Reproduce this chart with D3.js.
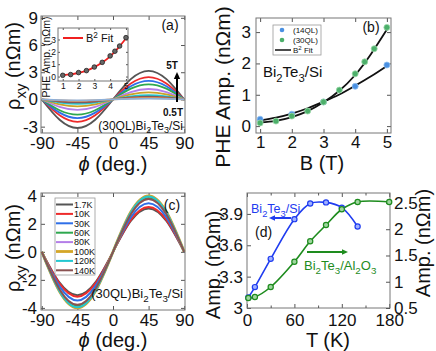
<!DOCTYPE html>
<html>
<head>
<meta charset="utf-8">
<script src="https://cdn.jsdelivr.net/npm/d3@7"></script>
<style>
  body { margin: 0; background: #fff; }
  text { font-family: "Liberation Sans", Arial, sans-serif; }
</style>
</head>
<body>
<div id="graph"></div>
<script>
// ---- data ----
// angle samples and the normalised curve shape seen in (a) and (c)
var phi = [-90, -67.5, -45, -22.5, 0, 22.5, 45, 67.5, 90];
var sineShape = [0, -0.71, -1, -0.71, 0, 0.71, 1, 0.71, 0];

// (a) field sweep, amplitudes in nOhm m (largest first)
var fieldsA = [5, 4.6, 4.3, 4, 3.5, 3, 2.5, 2, 1.5, 1];
var ampA = [3.15, 2.47, 2.05, 1.67, 1.15, 0.77, 0.48, 0.32, 0.16, 0.10];
var coloursA = ["#555555", "#ee2b2b", "#2f6fe8", "#2ea84f", "#b47ee8", "#c9a227", "#22c7d0", "#8a5757", "#e0893a", "#8fb0d8"];

// (b) PHE amplitude vs B
var b14 = [1, 2, 3, 4, 5];
var amp14 = [0.22, 0.38, 0.77, 1.27, 1.95];
var b30 = [1, 1.5, 2, 2.5, 3, 3.5, 4, 4.3, 4.6, 5];
var amp30 = [0.10, 0.16, 0.32, 0.48, 0.77, 1.15, 1.67, 2.05, 2.47, 3.15];
var fitB = [1, 1.5, 2, 2.5, 3, 3.5, 4, 4.5, 5];
var fit14 = [0.18, 0.27, 0.40, 0.57, 0.78, 1.01, 1.29, 1.59, 1.92];
var fit30 = [0.12, 0.17, 0.29, 0.48, 0.76, 1.13, 1.63, 2.30, 3.08];

// (c) temperature sweep
var tempsC = ["1.7K", "10K", "30K", "60K", "80K", "100K", "120K", "140K"];
var ampC = [3.10, 3.20, 3.47, 3.85, 3.98, 4.00, 3.95, 3.78];
var coloursC = ["#555555", "#ee2b2b", "#2f6fe8", "#2ea84f", "#b47ee8", "#d4a628", "#22c7d0", "#8a5252"];

// (d) amplitude vs T
var tSi = [1.7, 10, 30, 60, 80, 100, 120, 140];
var ampSi = [3.10, 3.20, 3.47, 3.85, 4.00, 4.01, 3.96, 3.78];
var tAl = [1.7, 10, 30, 60, 80, 100, 120, 140, 180];
var ampAl = [0.69, 0.71, 0.90, 1.38, 1.77, 2.08, 2.38, 2.52, 2.52];

var svg = d3.select("#graph")
  .append("svg")
    .attr("width", 436)
    .attr("height", 351);

var frameColour = "#777";

// text with sub/superscripts: parts = [[text, "sub"|"sup"|null, italic]]
function rich(sel, parts, size) {
  var shift = 0;
  parts.forEach(function(p) {
    var target = p[1] == "sub" ? size * 0.3 : (p[1] == "sup" ? -size * 0.4 : 0);
    var t = sel.append("tspan").attr("dy", target - shift).text(p[0]);
    if (p[1]) t.attr("font-size", size * 0.75);
    if (p[2]) t.attr("font-style", "italic");
    shift = target;
  });
  return sel;
}

function label(x, y, parts, size, opts) {
  opts = opts || {};
  var t = svg.append("text")
    .attr("x", x).attr("y", y)
    .attr("font-size", size)
    .attr("text-anchor", opts.anchor || "start")
    .attr("fill", opts.fill || "#111")
    .attr("font-weight", opts.bold ? "bold" : null);
  if (opts.rotate) t.attr("transform", "rotate(-90," + x + "," + y + ")");
  return rich(t, parts, size);
}

function styleAxis(g, size) {
  g.select(".domain").remove();
  g.selectAll(".tick line").attr("stroke", "#555");
  g.selectAll(".tick text")
    .attr("font-size", size)
    .attr("fill", "#111")
    .attr("font-family", "Liberation Sans, Arial, sans-serif");
}

// draws the frame plus inward ticks on all four sides
function frame(x, y, xt, yt, o) {
  var x0 = x.range()[0], x1 = x.range()[1], y0 = y.range()[0], y1 = y.range()[1];
  var fs = o.size || 17, tl = o.tick || 4;
  var fmt = function(d) { return String(d); };
  if (o.fill) {
    svg.append("rect").attr("x", x0).attr("y", y1).attr("width", x1 - x0).attr("height", y0 - y1)
      .attr("fill", o.fill);
  }
  svg.append("g").attr("transform", "translate(0," + y0 + ")")
    .call(d3.axisBottom(x).tickValues(xt).tickFormat(fmt).tickSizeInner(-tl).tickSizeOuter(0).tickPadding(o.padX))
    .call(styleAxis, fs);
  svg.append("g").attr("transform", "translate(0," + y1 + ")")
    .call(d3.axisTop(x).tickValues(xt).tickFormat("").tickSizeInner(-tl).tickSizeOuter(0))
    .call(styleAxis, fs);
  svg.append("g").attr("transform", "translate(" + x0 + ",0)")
    .call(d3.axisLeft(y).tickValues(yt).tickFormat(fmt).tickSizeInner(-tl).tickSizeOuter(0).tickPadding(o.padY))
    .call(styleAxis, fs);
  if (!o.noRight) {
    svg.append("g").attr("transform", "translate(" + x1 + ",0)")
      .call(d3.axisRight(y).tickValues(yt).tickFormat("").tickSizeInner(-tl).tickSizeOuter(0))
      .call(styleAxis, fs);
  }
  svg.append("rect").attr("x", x0).attr("y", y1).attr("width", x1 - x0).attr("height", y0 - y1)
    .attr("fill", "none").attr("stroke", frameColour).attr("stroke-width", 1);
}

function arrow(x1, y1, x2, y2, colour, head) {
  var a = Math.atan2(y2 - y1, x2 - x1), h = head || 6;
  svg.append("line").attr("x1", x1).attr("y1", y1)
    .attr("x2", x2 - Math.cos(a) * h * 0.8).attr("y2", y2 - Math.sin(a) * h * 0.8)
    .attr("stroke", colour).attr("stroke-width", 2);
  var p = [[x2, y2],
           [x2 - h * Math.cos(a) + h * 0.45 * Math.sin(a), y2 - h * Math.sin(a) - h * 0.45 * Math.cos(a)],
           [x2 - h * Math.cos(a) - h * 0.45 * Math.sin(a), y2 - h * Math.sin(a) + h * 0.45 * Math.cos(a)]];
  svg.append("path").attr("d", "M" + p.join("L") + "Z").attr("fill", colour);
}

var bite = [["Bi"], ["2", "sub"], ["Te"], ["3", "sub"], ["/Si"]];

// ================= (a) =================
var xA = d3.scaleLinear().domain([-91, 91]).range([41, 185]);
var yA = d3.scaleLinear().domain([-3.7, 9.2]).range([133, 16]);
frame(xA, yA, [-90, -45, 0, 45, 90], [-3, 0, 3, 6, 9], {padX: 4, padY: 3});

var lineA = d3.line()
  .x(function(d, i) { return xA(phi[i]); })
  .y(function(d) { return yA(d); })
  .curve(d3.curveNatural);

svg.selectAll(".curveA")
  .data(ampA)
  .enter().append("path")
    .attr("class", "curveA")
    .attr("fill", "none")
    .attr("stroke", function(d, i) { return coloursA[i]; })
    .attr("stroke-width", 1.8)
    .attr("d", function(a) { return lineA(sineShape.map(function(s) { return s * a; })); });

label(172, 69, [["5T"]], 10, {bold: true, anchor: "middle"});
label(173, 116, [["0.5T"]], 10, {bold: true, anchor: "middle"});
arrow(177, 102, 177, 72, "#000", 7);
label(170, 30, [["(a)"]], 14, {anchor: "middle"});
label(183, 129.5, [["(30QL)Bi"], ["2", "sub"], ["Te"], ["3", "sub"], ["/Si"]], 12, {anchor: "end"});
label(20, 66, [["ρ"], ["xy", "sub"], [" (nΩm)"]], 20, {anchor: "middle", rotate: true});
label(113, 171, [["ϕ", null, true], [" (deg.)"]], 20, {anchor: "middle"});

// inset
var xI = d3.scaleLinear().domain([0.7, 5.13]).range([58, 128]);
var yI = d3.scaleLinear().domain([-0.36, 3.93]).range([81, 28]);
frame(xI, yI, [1, 2, 3, 4, 5], [0, 1, 2, 3], {padX: 2, padY: 2, size: 8.5, tick: 2, fill: "#fff"});
svg.append("path")
  .datum(fit30)
  .attr("fill", "none").attr("stroke", "#f02020").attr("stroke-width", 1.8)
  .attr("d", d3.line()
    .x(function(d, i) { return xI(fitB[i]); })
    .y(function(d) { return yI(d); })
    .curve(d3.curveNatural));
svg.selectAll(".ptI")
  .data(amp30)
  .enter().append("circle")
    .attr("cx", function(d, i) { return xI(b30[i]); })
    .attr("cy", function(d) { return yI(d); })
    .attr("r", 2.3)
    .attr("fill", "#666").attr("stroke", "#222").attr("stroke-width", 0.8);
svg.append("line").attr("x1", 63).attr("x2", 83).attr("y1", 38).attr("y2", 38)
  .attr("stroke", "#f02020").attr("stroke-width", 2);
label(86, 42, [["B"], ["2", "sup"], [" Fit"]], 11);
label(50, 57, [["PHE Amp. (nΩm)"]], 10.5, {anchor: "middle", rotate: true});

// ================= (b) =================
var xB = d3.scaleLinear().domain([0.87, 5.13]).range([256, 391]);
var yB = d3.scaleLinear().domain([-0.22, 3.45]).range([133, 18]);
frame(xB, yB, [1, 2, 3, 4, 5], [0, 1, 2, 3], {padX: 3, padY: 5});

var lineB = d3.line()
  .x(function(d, i) { return xB(fitB[i]); })
  .y(function(d) { return yB(d); })
  .curve(d3.curveNatural);
[fit14, fit30].forEach(function(f) {
  svg.append("path").datum(f)
    .attr("fill", "none").attr("stroke", "#111").attr("stroke-width", 1.8)
    .attr("d", lineB);
});
svg.selectAll(".pt14")
  .data(amp14)
  .enter().append("circle")
    .attr("cx", function(d, i) { return xB(b14[i]); })
    .attr("cy", function(d) { return yB(d); })
    .attr("r", 3).attr("fill", "#4a90e2").attr("stroke", "#8fc0f0").attr("stroke-width", 0.8);
svg.selectAll(".pt30")
  .data(amp30)
  .enter().append("circle")
    .attr("cx", function(d, i) { return xB(b30[i]); })
    .attr("cy", function(d) { return yB(d); })
    .attr("r", 3).attr("fill", "#4caf6a").attr("stroke", "#9ad8a8").attr("stroke-width", 0.8);

// legend (b)
svg.append("rect").attr("x", 273).attr("y", 25).attr("width", 48).attr("height", 30)
  .attr("fill", "#fff").attr("stroke", "#999").attr("stroke-width", 0.8);
svg.append("circle").attr("cx", 282).attr("cy", 30).attr("r", 2.3).attr("fill", "#4a90e2");
svg.append("circle").attr("cx", 282).attr("cy", 40).attr("r", 2.3).attr("fill", "#4caf6a");
svg.append("line").attr("x1", 275).attr("x2", 291).attr("y1", 50).attr("y2", 50)
  .attr("stroke", "#111").attr("stroke-width", 1.5);
label(293, 33, [["(14QL)"]], 8);
label(293, 43, [["(30QL)"]], 8);
label(293, 53, [["B"], ["2", "sup"], [" Fit"]], 8);

label(371, 32, [["(b)"]], 14, {anchor: "middle"});
label(263, 77, bite, 15);
label(230, 87, [["PHE Amp. (nΩm)"]], 21, {anchor: "middle", rotate: true});
label(322, 170, [["B (T)"]], 20, {anchor: "middle"});

// ================= (c) =================
var xC = d3.scaleLinear().domain([-91, 91]).range([41, 185]);
var yC = d3.scaleLinear().domain([-4.15, 4.2]).range([310, 193]);
frame(xC, yC, [-90, -45, 0, 45, 90], [-4, -2, 0, 2, 4], {padX: 4, padY: 4});

var lineC = d3.line()
  .x(function(d, i) { return xC(phi[i]); })
  .y(function(d) { return yC(d); })
  .curve(d3.curveNatural);
svg.selectAll(".curveC")
  .data(ampC)
  .enter().append("path")
    .attr("fill", "none")
    .attr("stroke", function(d, i) { return coloursC[i]; })
    .attr("stroke-width", function(d, i) { return tempsC[i] == "100K" ? 2.8 : 2; })
    .attr("d", function(a) { return lineC(sineShape.map(function(s) { return s * a; })); });

// legend (c)
svg.append("rect").attr("x", 55).attr("y", 198).attr("width", 40).attr("height", 77)
  .attr("fill", "#fff").attr("stroke", "#999").attr("stroke-width", 0.8);
tempsC.forEach(function(t, i) {
  var yy = 204.5 + i * 9.4;
  svg.append("line").attr("x1", 56).attr("x2", 73).attr("y1", yy).attr("y2", yy)
    .attr("stroke", coloursC[i]).attr("stroke-width", t == "100K" ? 2.8 : 2);
  label(74, yy + 3.2, [[t]], 9);
});

label(172, 210, [["(c)"]], 14, {anchor: "middle"});
label(183, 298, [["(30QL)Bi"], ["2", "sub"], ["Te"], ["3", "sub"], ["/Si"]], 13, {anchor: "end"});
label(20, 248, [["ρ"], ["xy", "sub"], [" (nΩm)"]], 20, {anchor: "middle", rotate: true});
label(113, 347, [["ϕ", null, true], [" (deg.)"]], 20, {anchor: "middle"});

// ================= (d) =================
var xD = d3.scaleLinear().domain([0, 181]).range([247, 390]);
var yDL = d3.scaleLinear().domain([3, 4.1]).range([308, 193]);
var yDR = d3.scaleLinear().domain([0.5, 2.69]).range([308, 193]);
frame(xD, yDL, [0, 60, 120, 180], [3, 3.3, 3.6, 3.9], {padX: 6, padY: 4, noRight: true});
// minor ticks on T axis
svg.append("g").attr("transform", "translate(0,308)")
  .call(d3.axisBottom(xD).tickValues([30, 90, 150]).tickFormat("").tickSizeInner(-2.5).tickSizeOuter(0))
  .call(styleAxis, 17);
svg.append("g").attr("transform", "translate(0,193)")
  .call(d3.axisTop(xD).tickValues([30, 90, 150]).tickFormat("").tickSizeInner(-2.5).tickSizeOuter(0))
  .call(styleAxis, 17);
svg.append("g").attr("transform", "translate(390,0)")
  .call(d3.axisRight(yDR).tickValues([0.5, 1, 1.5, 2, 2.5]).tickFormat(function(d) { return String(d); })
    .tickSizeInner(-4).tickSizeOuter(0).tickPadding(4))
  .call(styleAxis, 17);

var blue = "#1f3cf0", green = "#1e8c1e";
svg.append("path").datum(ampSi)
  .attr("fill", "none").attr("stroke", blue).attr("stroke-width", 1.6)
  .attr("d", d3.line()
    .x(function(d, i) { return xD(tSi[i]); })
    .y(function(d) { return yDL(d); })
    .curve(d3.curveCatmullRom));
svg.append("path").datum(ampAl)
  .attr("fill", "none").attr("stroke", green).attr("stroke-width", 1.6)
  .attr("d", d3.line()
    .x(function(d, i) { return xD(tAl[i]); })
    .y(function(d) { return yDR(d); })
    .curve(d3.curveCatmullRom));
svg.selectAll(".ptSi")
  .data(ampSi)
  .enter().append("circle")
    .attr("cx", function(d, i) { return xD(tSi[i]); })
    .attr("cy", function(d) { return yDL(d); })
    .attr("r", 2.6).attr("fill", "#9fb0ff").attr("stroke", blue).attr("stroke-width", 1.2);
svg.selectAll(".ptAl")
  .data(ampAl)
  .enter().append("circle")
    .attr("cx", function(d, i) { return xD(tAl[i]); })
    .attr("cy", function(d) { return yDR(d); })
    .attr("r", 2.6).attr("fill", "#9fd69f").attr("stroke", green).attr("stroke-width", 1.2);

label(251, 213, bite, 12.5, {fill: blue});
arrow(291, 218, 269, 218, blue, 6);
label(255, 237, [["(d)"]], 14);
arrow(307, 252, 348, 252, green, 6);
label(304, 270, [["Bi"], ["2", "sub"], ["Te"], ["3", "sub"], ["/Al"], ["2", "sub"], ["O"], ["3", "sub"]], 13, {fill: green});
label(220, 265, [["Amp. (nΩm)"]], 20, {anchor: "middle", rotate: true});
label(430, 243, [["Amp. (nΩm)"]], 20, {anchor: "middle", rotate: true});
label(328, 347, [["T (K)"]], 20, {anchor: "middle"});
</script>
</body>
</html>
